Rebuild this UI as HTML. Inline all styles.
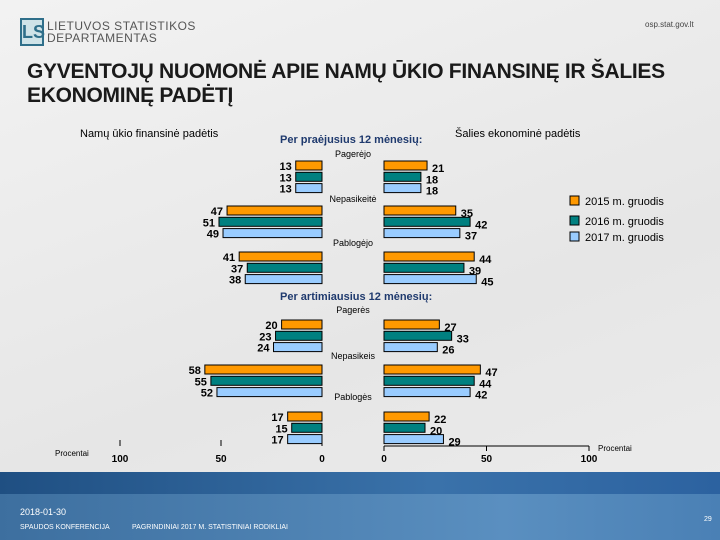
<!DOCTYPE html>
<html><head><meta charset="utf-8"><style>
body{margin:0;width:720px;height:540px;overflow:hidden;background:#ebebeb;font-family:"Liberation Sans",sans-serif;}
#page{position:relative;width:720px;height:540px;background:linear-gradient(160deg,#f2f2f2,#e6e6e6 60%,#ececec);}
.abs{position:absolute;white-space:nowrap;}
</style></head><body>
<div id="page">
<div class="abs" style="left:20px;top:18px;width:20px;height:24px;border:2px solid #2f6f8a;background:#cfe3e8;color:#2f6f8a;font-size:18px;font-weight:bold;line-height:24px;text-align:center;">LS</div>
<div class="abs" style="left:47px;top:20px;font-size:12px;color:#555;line-height:12px;letter-spacing:0.5px;">LIETUVOS STATISTIKOS<br>DEPARTAMENTAS</div>
<div class="abs" style="left:645px;top:20px;font-size:8px;color:#444;">osp.stat.gov.lt</div>
<div class="abs" style="left:27px;top:60px;font-size:21px;font-weight:bold;color:#1a1a1a;line-height:24px;letter-spacing:-0.3px;">GYVENTOJŲ NUOMONĖ APIE NAMŲ ŪKIO FINANSINĘ IR ŠALIES<br>EKONOMINĘ PADĖTĮ</div>
<svg id="chart" class="abs" style="left:0;top:0" width="720" height="470"></svg>
<div class="abs" style="left:0;top:472px;width:720px;height:68px;background:linear-gradient(90deg,#3d6f9f,#5a8fc0 70%,#4a80b5);"></div>
<div class="abs" style="left:0;top:472px;width:720px;height:22px;background:linear-gradient(90deg,#1f4f82,#3a72aa 60%,#2c62a0);"></div>
<div class="abs" style="left:20px;top:507px;font-size:9px;color:#fff;">2018-01-30</div>
<div class="abs" style="left:20px;top:524px;font-size:7px;color:#fff;">SPAUDOS KONFERENCIJA</div>
<div class="abs" style="left:132px;top:524px;font-size:7px;color:#fff;">PAGRINDINIAI 2017 M. STATISTINIAI RODIKLIAI</div>
<div class="abs" style="left:704px;top:516px;font-size:7px;color:#fff;">29</div>
</div>
<script>
const categories=["Pagerėjo","Nepasikeitė","Pablogėjo","Pagerės","Nepasikeis","Pablogės"];
const series=["2015 m. gruodis","2016 m. gruodis","2017 m. gruodis"];
const household2015=[13,47,41,20,58,17];
const household2016=[13,51,37,23,55,15];
const household2017=[13,49,38,24,52,17];
const economy2015=[21,35,44,27,47,22];
const economy2016=[18,42,39,33,44,20];
const economy2017=[18,37,45,26,42,29];
const ticks=[0,50,100];
const colors=["#ff9900","#008080","#99ccff"];
const ns="http://www.w3.org/2000/svg";
const svg=document.getElementById('chart');
function xl(v){return 322-v*2.02;}
function xr(v){return 384+v*2.05;}
const groupTop=[161,206,252,320,365,412];
const labelY=[157,202,246,313,359,400];
function mk(tag,attrs,parent){const e=document.createElementNS(ns,tag);for(const k in attrs)e.setAttribute(k,attrs[k]);(parent||svg).appendChild(e);return e;}
function txt(x,y,s,size,anchor,weight,fill){const t=mk('text',{x:x,y:y,'font-size':size,'text-anchor':anchor||'start','font-weight':weight||'normal',fill:fill||'#000','font-family':'Liberation Sans, sans-serif'});t.textContent=s;return t;}
let h=txt(80,137,"Namų ūkio finansinė padėtis",11);


h=txt(280,143,"Per praėjusius 12 mėnesių:",11,'start','bold','#1f3a6e');


h=txt(455,137,"Šalies ekonominė padėtis",11);


h=txt(280,300,"Per artimiausius 12 mėnesių:",11,'start','bold','#1f3a6e');


const L=[household2015,household2016,household2017],R=[economy2015,economy2016,economy2017];
categories.forEach((c,i)=>{
  const cl=txt(353,labelY[i],c,9,'middle');
  
  
  for(let s=0;s<3;s++){
    const y=groupTop[i]+s*11.3;
    const vl=L[s][i],vr=R[s][i];
    const bl=mk('rect',{x:xl(vl),y:y,width:322-xl(vl),height:9,fill:colors[s],stroke:'#000','stroke-width':1});
    
    
    const br=mk('rect',{x:384,y:y,width:xr(vr)-384,height:9,fill:colors[s],stroke:'#000','stroke-width':1});
    
    
    let t=txt(xl(vl)-4,y+9,String(vl),11,'end','bold');
    
    
    t=txt(xr(vr)+5,y+11,String(vr),11,'start','bold');
    
    
  }
});
let ax=mk('line',{x1:xr(0),y1:446,x2:xr(100),y2:446,stroke:'#000'});


ticks.forEach(v=>{
  mk('line',{x1:xl(v),y1:440,x2:xl(v),y2:446,stroke:'#000'});
  mk('line',{x1:xr(v),y1:446,x2:xr(v),y2:451,stroke:'#000'});
  let t=txt(xl(v),462,String(v),10,'middle','bold');
  
  
  t=txt(xr(v),462,String(v),10,'middle','bold');
  
  
});
let p=txt(55,456,"Procentai",8);


p=txt(598,451,"Procentai",8);


const legY=[196,216,232];
series.forEach((s,i)=>{
  const r=mk('rect',{x:570,y:legY[i],width:9,height:9,fill:colors[i],stroke:'#000'});
  
  
  const t=txt(585,legY[i]+9,s,11);
  
  
});
</script>
</body></html>
